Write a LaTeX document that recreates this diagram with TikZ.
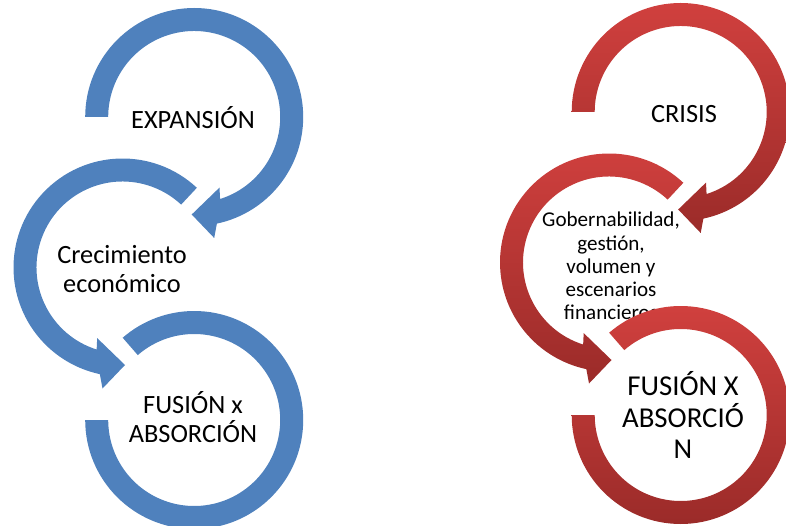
\documentclass[tikz,border=0pt]{standalone}
\usepackage{fontspec}
\setmainfont{Carlito}
\usetikzlibrary{shadows.blur}
\definecolor{arcblue}{HTML}{4F81BD}
\definecolor{arcredtop}{HTML}{D0403E}
\definecolor{arcredbot}{HTML}{9B2B29}
\tikzset{bluearc/.style={fill=arcblue},
  redarc/.style={top color=arcredtop, bottom color=arcredbot, blur shadow={shadow xshift=0.5pt, shadow yshift=-2pt, shadow blur radius=3pt, shadow opacity=35}},
  steptext/.style={align=center, font=\fontsize{15}{16.6}\selectfont},
  arcdown/.pic={\path[pic actions] (180:109) arc[start angle=180, end angle=-78, radius=109] -- (20,-121) -- (-2.5,-97.5) -- (25.3,-70.6) -- (-72.5:86) arc[start angle=-72.5, end angle=180, radius=86] -- cycle;},
  arcleft/.pic={\path[pic actions] (47:109) arc[start angle=47, end angle=258, radius=109] -- (-20,-121) -- (2.5,-97.5) -- (-25.3,-70.6) -- (252.5:86) arc[start angle=252.5, end angle=47, radius=86] -- cycle;},
  arcring/.pic={\path[pic actions] (180:109) arc[start angle=180, end angle=491, radius=109] -- (491:86) arc[start angle=491, end angle=180, radius=86] -- cycle;}}

\begin{document}
\begin{tikzpicture}[x=0.02cm, y=0.02cm]
    \useasboundingbox (0,0) rectangle (786,-526);
    \clip (0,0) rectangle (786,-526);
    % blue chain
    \pic[bluearc] at (194.2,-117) {arcdown};
    \pic[bluearc] at (122.5,-267.5) {arcleft};
    \pic[bluearc] at (194.2,-420) {arcring};
    \node[steptext] (expansion) at (193,-118) {EXPANSIÓN};
    \node[steptext] (crecimiento) at (122,-269) {Crecimiento\\económico};
    \node[steptext] (fusionA) at (193,-417) {FUSIÓN x\\ABSORCIÓN};
    % red chain
    \pic[redarc] at (680.7,-112) {arcdown};
    \pic[redarc] at (609,-262.5) {arcleft};
    \node[steptext, font=\fontsize{12}{13.2}\selectfont] (gobernabilidad) at (611,-266) {Gobernabilidad,\\gestión,\\volumen y\\escenarios\\financieros};
    \pic[redarc] at (680.7,-415) {arcring};
    \node[steptext] (crisis) at (684,-114) {CRISIS};
    \node[steptext, font=\fontsize{16.4}{18}\selectfont] (fusionB) at (683,-415) {FUSIÓN X\\ABSORCIÓ\\N};
\end{tikzpicture}
\end{document}
